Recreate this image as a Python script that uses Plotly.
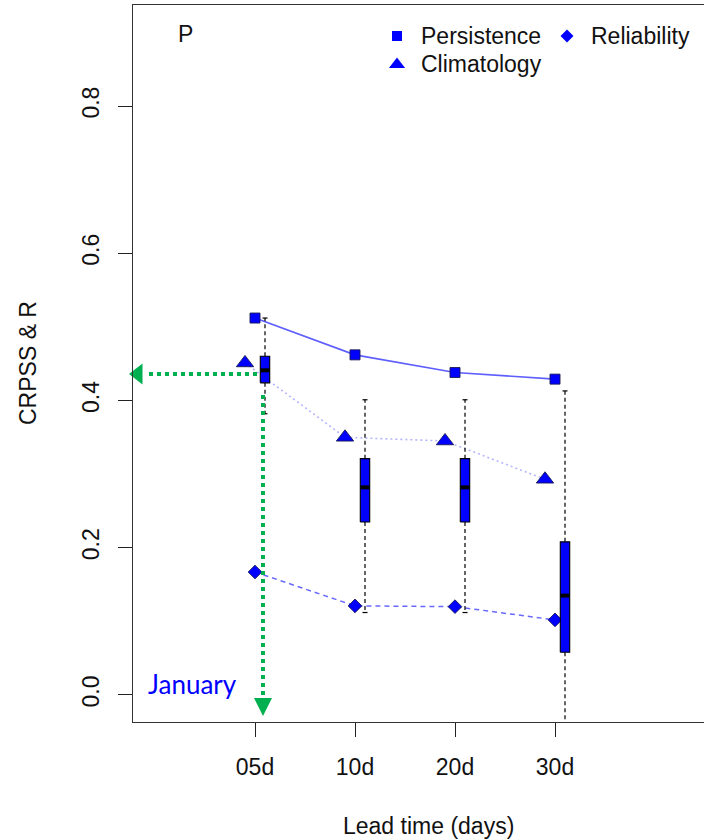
import plotly.graph_objects as go

# Lead times and their tick labels
lead_labels = ["05d", "10d", "20d", "30d"]
lead_pos = [1, 2, 3, 4]

# Skill scores per lead time
persistence = [0.512, 0.462, 0.438, 0.429]
climatology = [0.451, 0.350, 0.345, 0.293]
reliability = [0.167, 0.121, 0.120, 0.102]

# Box-plot summary of the ensemble CRPSS per lead time
box_lower = [0.382, 0.112, 0.112, -0.05]
box_q1 = [0.424, 0.235, 0.235, 0.058]
box_median = [0.441, 0.282, 0.282, 0.135]
box_q3 = [0.460, 0.321, 0.321, 0.208]
box_upper = [0.512, 0.401, 0.401, 0.413]

y_ticks = [0.0, 0.2, 0.4, 0.6, 0.8]
y_ticktext = ["0.0", "0.2", "0.4", "0.6", "0.8"]

# January CRPSS level highlighted by the guide arrows
january_level = 0.436

# ---- geometry -------------------------------------------------------------
W, H = 704, 839
L, R, T, B = 133, 0, 5, 117
PW, PH = W - L - R, H - T - B

def px(x):
    return (x - L) / PW

def py(y):
    return (H - B - y) / PH

ARIAL = "Liberation Sans, Arial, sans-serif"
BLUE = "#0000ff"
GREEN = "#00b050"
FS = 23

tri_x = [p - 0.1 for p in lead_pos]
box_x = [p + 0.1 for p in lead_pos]
half_w = 0.047
cap_w = 0.025

fig = go.Figure()

# connecting lines
fig.add_trace(go.Scatter(x=lead_pos, y=persistence, mode="lines",
                         line=dict(color="rgba(40,40,255,0.75)", width=1.6)))
fig.add_trace(go.Scatter(x=tri_x, y=climatology, mode="lines",
                         line=dict(color="rgba(90,90,255,0.45)", width=1.6, dash="2px,3px")))
fig.add_trace(go.Scatter(x=lead_pos, y=reliability, mode="lines",
                         line=dict(color="rgba(40,40,255,0.7)", width=1.5, dash="5px,4px")))

# point markers
mk_line = dict(color="#1a1a55", width=0.9)
fig.add_trace(go.Scatter(x=lead_pos, y=persistence, mode="markers",
                         marker=dict(symbol="square", size=10, color=BLUE, line=mk_line)))
fig.add_trace(go.Scatter(x=tri_x, y=climatology, mode="markers",
                         marker=dict(symbol="triangle-up", size=15, color=BLUE, line=mk_line)))
fig.add_trace(go.Scatter(x=lead_pos, y=reliability, mode="markers",
                         marker=dict(symbol="diamond", size=10.5, color=BLUE, line=mk_line)))

# box plots: whiskers, caps, boxes, medians
wx, wy, cx, cy, bx, by, mx, my = [], [], [], [], [], [], [], []
for p, lo, q1, md, q3, hi in zip(box_x, box_lower, box_q1, box_median, box_q3, box_upper):
    wx += [p, p, None, p, p, None]
    wy += [q3, hi, None, q1, lo, None]
    cx += [p - cap_w, p + cap_w, None, p - cap_w, p + cap_w, None]
    cy += [hi, hi, None, lo, lo, None]
    bx += [p - half_w, p + half_w, p + half_w, p - half_w, p - half_w, None]
    by += [q1, q1, q3, q3, q1, None]
    mx += [p - half_w, p + half_w, None]
    my += [md, md, None]

fig.add_trace(go.Scatter(x=wx, y=wy, mode="lines",
                         line=dict(color="black", width=1.2, dash="4px,3px")))
fig.add_trace(go.Scatter(x=cx, y=cy, mode="lines", line=dict(color="black", width=1.2)))
fig.add_trace(go.Scatter(x=bx, y=by, mode="lines", fill="toself", fillcolor=BLUE,
                         line=dict(color="black", width=1.1)))
fig.add_trace(go.Scatter(x=mx, y=my, mode="lines", line=dict(color="black", width=4)))

# guide arrows for January
jan_x = lead_pos[0] + 0.08
fig.add_trace(go.Scatter(x=[lead_pos[0] + 0.02, -0.09], y=[january_level, january_level],
                         mode="lines", line=dict(color=GREEN, width=4, dash="dot")))
fig.add_trace(go.Scatter(x=[-0.17], y=[january_level], mode="markers", cliponaxis=False,
                         marker=dict(symbol="triangle-left", size=18, color=GREEN, line=dict(width=0))))
fig.add_trace(go.Scatter(x=[jan_x, jan_x], y=[0.4075, -0.003],
                         mode="lines", line=dict(color=GREEN, width=4, dash="dot")))
fig.add_trace(go.Scatter(x=[jan_x], y=[-0.0285], mode="markers", cliponaxis=False,
                         marker=dict(symbol="arrow-down", size=18, color=GREEN, line=dict(width=0))))

# legend drawn on a pixel overlay
legend_items = [("square", 10, 397, 36, "Persistence"),
                ("diamond", 10, 567, 36, "Reliability"),
                ("triangle-up", 14, 397, 64.5, "Climatology")]
for sym, size, lx, ly, name in legend_items:
    fig.add_trace(go.Scatter(x=[lx], y=[ly], xaxis="x2", yaxis="y2", mode="markers",
                             cliponaxis=False,
                             marker=dict(symbol=sym, size=size, color=BLUE, line=dict(width=0))))

annotations = []
for sym, size, lx, ly, name in legend_items:
    annotations.append(dict(x=px(lx + 22), y=py(ly - 0.5), xref="paper", yref="paper",
                            text=name, showarrow=False, xanchor="left", yanchor="middle",
                            font=dict(family=ARIAL, size=FS, color="#111")))
annotations += [
    dict(x=px(185), y=py(34), xref="paper", yref="paper", text="P", showarrow=False,
         xanchor="center", yanchor="middle", font=dict(family=ARIAL, size=FS, color="#111")),
    dict(x=px(28), y=py(363), xref="paper", yref="paper", text="CRPSS & R", showarrow=False,
         textangle=-90, xanchor="center", yanchor="middle",
         font=dict(family=ARIAL, size=FS, color="#111")),
    dict(x=px(429), y=py(826), xref="paper", yref="paper", text="Lead time (days)",
         showarrow=False, xanchor="center", yanchor="middle",
         font=dict(family=ARIAL, size=FS, color="#111")),
    dict(x=px(146), y=py(684), xref="paper", yref="paper", text="January", showarrow=False,
         xanchor="left", yanchor="middle", font=dict(family="Lato, sans-serif", size=26, color=BLUE)),
]

fig.update_layout(
    width=W, height=H,
    margin=dict(l=L, r=R, t=T, b=B, pad=0),
    paper_bgcolor="white", plot_bgcolor="white",
    showlegend=False,
    annotations=annotations,
    xaxis=dict(range=[-0.22, 5.49], tickmode="array", tickvals=lead_pos, ticktext=lead_labels,
               ticks="outside", ticklen=14, tickwidth=1.2, tickcolor="#222",
               showline=True, linecolor="#333", linewidth=1.4, mirror=True,
               showgrid=False, zeroline=False, ticklabelstandoff=10,
               tickfont=dict(family=ARIAL, size=FS, color="#111")),
    yaxis=dict(range=[-0.0367, 0.9372], tickmode="array", tickvals=y_ticks, ticktext=y_ticktext,
               tickangle=-90, ticks="outside", ticklen=14, tickwidth=1.2, tickcolor="#222",
               showline=True, linecolor="#333", linewidth=1.4, mirror=False,
               showgrid=False, zeroline=False, ticklabelstandoff=10,
               tickfont=dict(family=ARIAL, size=FS, color="#111")),
    xaxis2=dict(overlaying="x", range=[L, W - R], visible=False, anchor="y2"),
    yaxis2=dict(overlaying="y", range=[H - B, T], visible=False, anchor="x2"),
)

fig.write_html("out.html")
